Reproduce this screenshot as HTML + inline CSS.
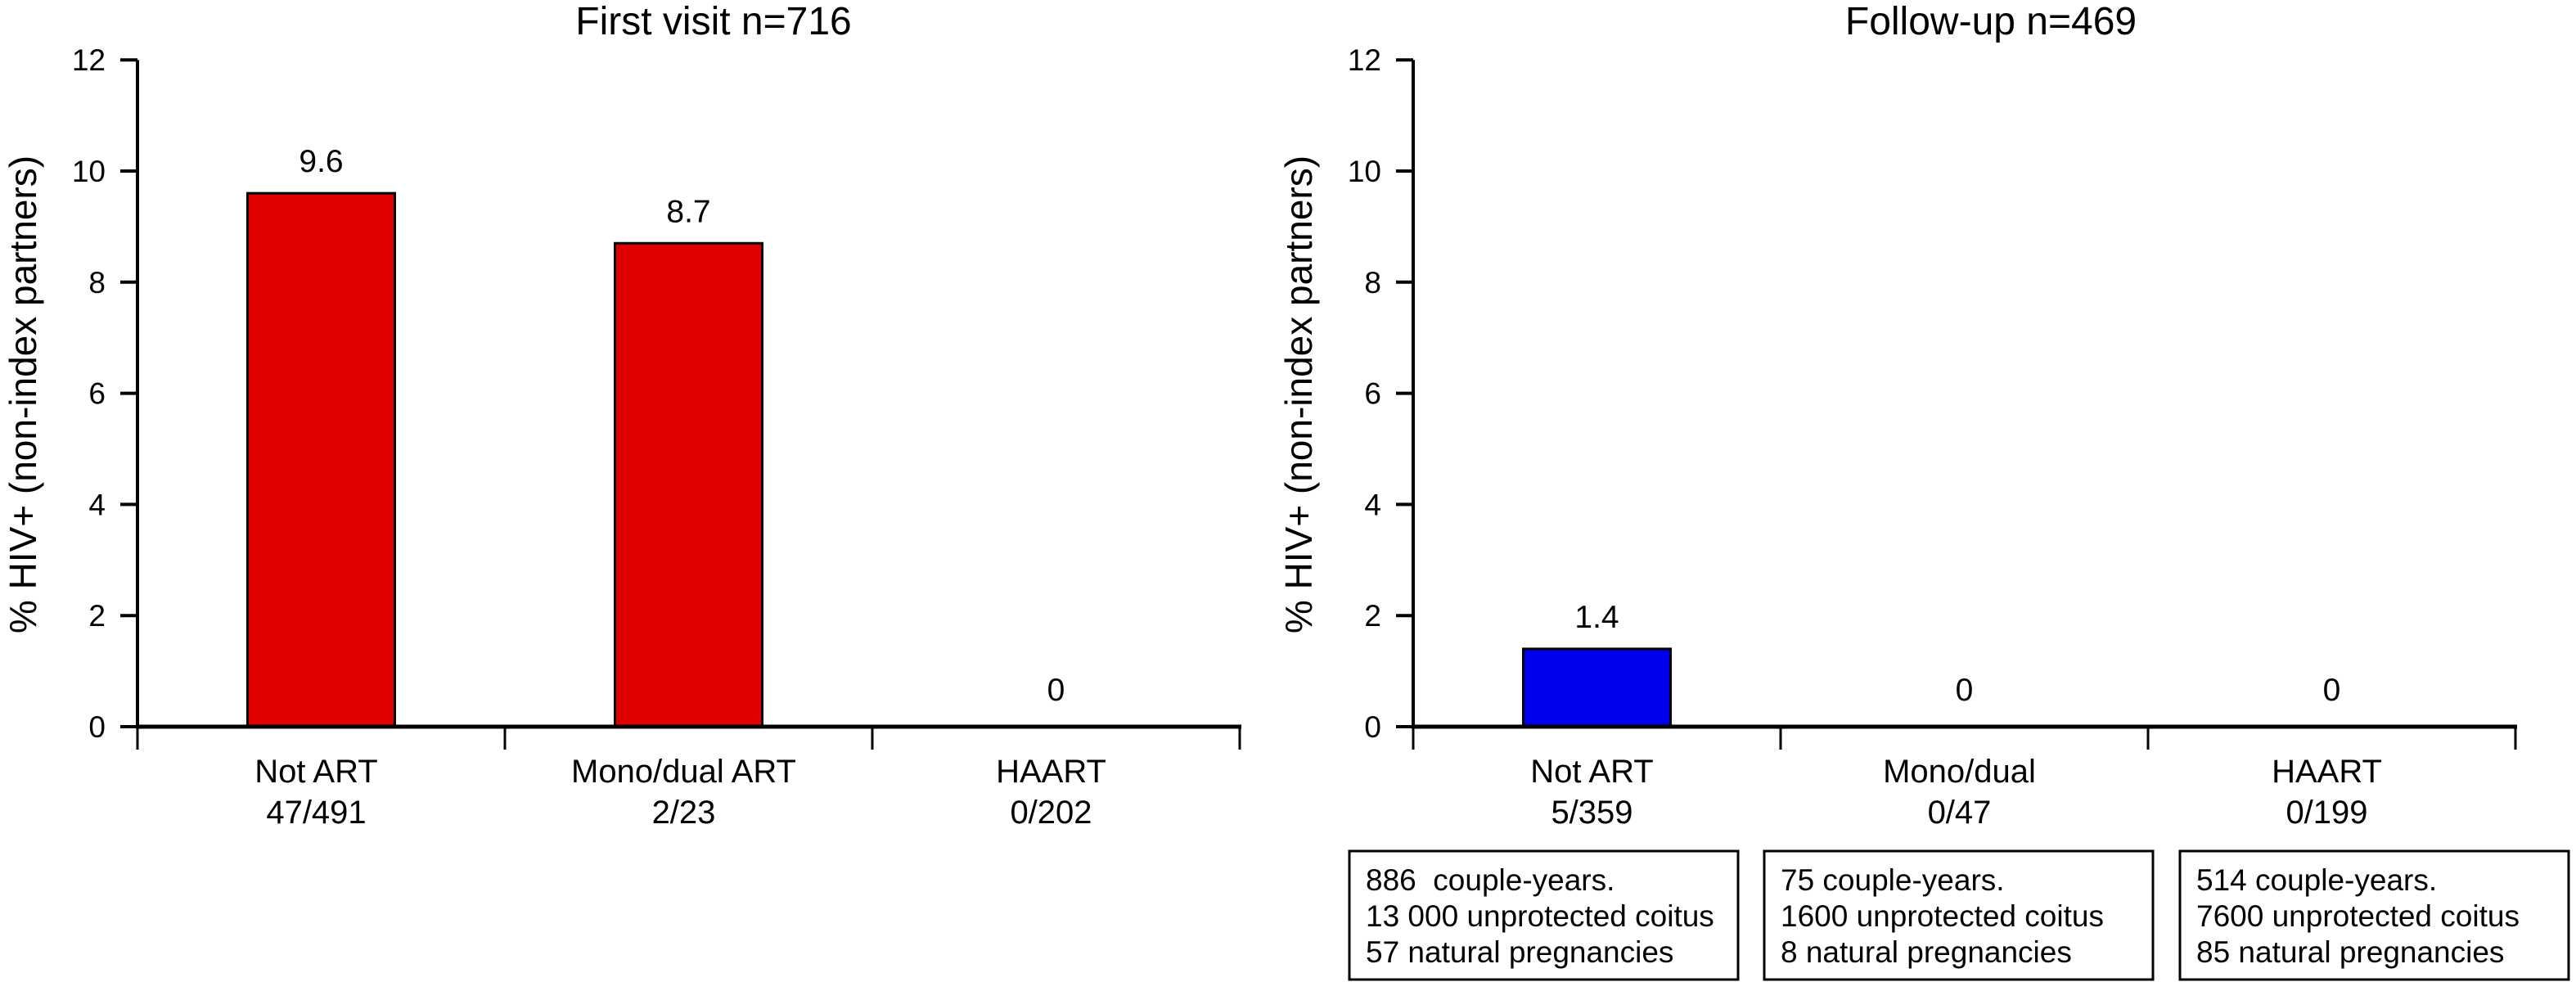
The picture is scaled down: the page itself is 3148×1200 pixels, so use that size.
<!DOCTYPE html>
<html><head><meta charset="utf-8"><style>
html,body{margin:0;padding:0;background:#fff;}
svg{display:block;font-family:"Liberation Sans",sans-serif;}
</style></head><body>
<svg id="chart" width="3148" height="1200" viewBox="0 0 3148 1200" xmlns="http://www.w3.org/2000/svg"></svg>
<script>
const categoriesA = ["Not ART", "Mono/dual ART", "HAART"];
const countsA = ["47/491", "2/23", "0/202"];
const valuesA = [9.6, 8.7, 0];
const labelsA = ["9.6", "8.7", "0"];
const categoriesB = ["Not ART", "Mono/dual", "HAART"];
const countsB = ["5/359", "0/47", "0/199"];
const valuesB = [1.4, 0, 0];
const labelsB = ["1.4", "0", "0"];
const yTicks = [0, 2, 4, 6, 8, 10, 12];
const boxLines = [
  ["886\u00A0 couple-years.", "13 000 unprotected coitus", "57 natural pregnancies"],
  ["75 couple-years.", "1600 unprotected coitus", "8 natural pregnancies"],
  ["514 couple-years.", "7600 unprotected coitus", "85 natural pregnancies"]
];

const NS = "http://www.w3.org/2000/svg";
const svg = document.getElementById("chart");
function mk(tag, attrs, parent) {
  const e = document.createElementNS(NS, tag);
  for (const k in attrs) e.setAttribute(k, attrs[k]);
  (parent || svg).appendChild(e);
  return e;
}
function txt(str, x, y, size, anchor, parent) {
  const t = mk("text", {x: x, y: y, "font-size": size, "text-anchor": anchor || "middle", fill: "#000"}, parent);
  t.textContent = str;
  return t;
}

function panel(cfg) {
  const g = mk("g", {});
  
  
  const x0 = cfg.x0, x1 = cfg.x1, y0 = 888, unit = 67.9;
  const yScale = v => y0 - v * unit;
  const n = cfg.cats.length;
  const cw = (x1 - x0) / n;
  const xCenter = i => x0 + cw * (i + 0.5);

  const title = txt(cfg.title, cfg.titleX, 42, 48, "middle", g);
  
  

  const yt = mk("text", {x: 0, y: 0, "font-size": 46, "text-anchor": "middle", transform: `translate(${x0 - 124},482) rotate(-90)`}, g);
  yt.textContent = "% HIV+ (non-index partners)";
  
  

  cfg.vals.forEach((v, i) => {
    const cx = xCenter(i);
    if (v > 0) {
      const r = mk("rect", {x: cx - 90, y: yScale(v), width: 180, height: y0 - yScale(v), fill: cfg.color, stroke: "#000", "stroke-width": 3}, g);
      
      
    }
    const vl = txt(cfg.labels[i], cx, yScale(v) - (v > 0 ? 26 : 32), 39, "middle", g);
    
    
    const c1 = txt(cfg.cats[i], cx - 6, 956, 40, "middle", g);
    
    
    const c2 = txt(cfg.counts[i], cx - 6, 1006, 40, "middle", g);
    
    
  });

  const ya = mk("line", {x1: x0, y1: yScale(12), x2: x0, y2: y0, stroke: "#000", "stroke-width": 4}, g);
  
  
  yTicks.forEach(t => {
    mk("line", {x1: x0 - 21, y1: yScale(t), x2: x0, y2: yScale(t), stroke: "#000", "stroke-width": 4}, g);
    const tl = txt(String(t), x0 - 39, yScale(t) + 13, 37, "end", g);
    
    
  });
  const xa = mk("line", {x1: x0 - 2, y1: y0, x2: x1 + 2, y2: y0, stroke: "#000", "stroke-width": 5}, g);
  
  
  for (let i = 0; i <= n; i++) {
    mk("line", {x1: x0 + cw * i, y1: y0, x2: x0 + cw * i, y2: 916, stroke: "#000", "stroke-width": 3}, g);
  }
}

panel({name: "first-visit-chart", x0: 168, x1: 1515, title: "First visit n=716", titleX: 872,
  cats: categoriesA, counts: countsA, vals: valuesA, labels: labelsA, color: "#e00000"});
panel({name: "follow-up-chart", x0: 1727, x1: 3074, title: "Follow-up n=469", titleX: 2433,
  cats: categoriesB, counts: countsB, vals: valuesB, labels: labelsB, color: "#0000ee"});

const boxX = [1649, 2156, 2664];
boxLines.forEach((lines, i) => {
  const g = mk("g", {});
  
  
  mk("rect", {x: boxX[i], y: 1040, width: 475, height: 157, fill: "none", stroke: "#000", "stroke-width": 3}, g);
  lines.forEach((l, j) => {
    txt(l, boxX[i] + 20, 1088 + j * 44, 37, "start", g);
  });
});
</script>
</body></html>
